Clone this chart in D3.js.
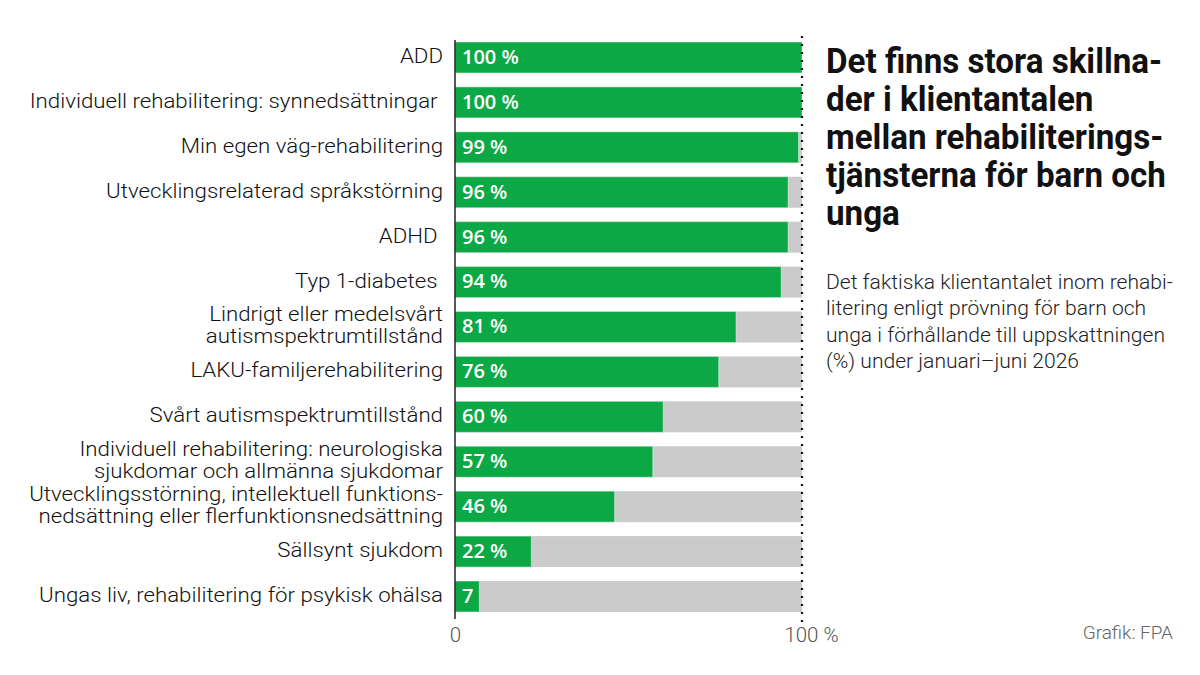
<!DOCTYPE html>
<html>
<head>
<meta charset="utf-8">
<script src="https://cdn.jsdelivr.net/npm/d3@7"></script>
<style>
  html, body { margin: 0; padding: 0; background: #fff; }
  svg { display: block; }
  text { white-space: pre; }
</style>
</head>
<body>
<svg id="chart" width="1200" height="675"></svg>
<script>
// ---- data ----
const categories = [
  ["ADD"],
  ["Individuell rehabilitering: synnedsättningar "],
  ["Min egen väg-rehabilitering"],
  ["Utvecklingsrelaterad språkstörning"],
  ["ADHD "],
  ["Typ 1-diabetes "],
  ["Lindrigt eller medelsvårt", "autismspektrumtillstånd"],
  ["LAKU-familjerehabilitering"],
  ["Svårt autismspektrumtillstånd"],
  ["Individuell rehabilitering: neurologiska", "sjukdomar och allmänna sjukdomar"],
  ["Utvecklingsstörning, intellektuell funktions-", "nedsättning eller flerfunktionsnedsättning"],
  ["Sällsynt sjukdom"],
  ["Ungas liv, rehabilitering för psykisk ohälsa"]
];
const values = [100, 100, 99, 96, 96, 94, 81, 76, 60, 57, 46, 22, 7];
const valueLabels = ["100 %", "100 %", "99 %", "96 %", "96 %", "94 %", "81 %", "76 %", "60 %", "57 %", "46 %", "22 %", "7"];
const tickValues = [0, 100];
const tickLabels = ["0", "100 %"];
const titleLines = ["Det finns stora skillna-", "der i klientantalen", "mellan rehabiliterings-", "tjänsterna för barn och", "unga"];
const subtitleLines = ["Det faktiska klientantalet inom rehabi-", "litering enligt prövning för barn och", "unga i förhållande till uppskattningen", "(%) under januari\u2013juni 2026"];
const sourceText = "Grafik: FPA";

// ---- setup ----
const svg = d3.select("#chart");
const FONT = "Roboto, 'Open Sans', sans-serif";
const idx = d3.range(values.length);

const x = d3.scaleLinear().domain([0, 100]).range([455, 802]);
const y = d3.scaleBand().domain(idx).range([42, 612]).paddingInner(0.31).paddingOuter(0);

// background (gray) bars
svg.append("g").selectAll("rect").data(idx).join("rect")
  .attr("x", x(0)).attr("y", i => y(i))
  .attr("width", x(100) - x(0)).attr("height", y.bandwidth())
  .attr("fill", "#cbcbcb");

// value bars
svg.append("g").selectAll("rect").data(idx).join("rect")
  .attr("x", x(0)).attr("y", i => y(i))
  .attr("width", i => x(values[i]) - x(0)).attr("height", y.bandwidth())
  .attr("fill", "#0da846")
  .attr("stroke", "#ffffff").attr("stroke-opacity", 0.45).attr("stroke-width", 1);

// value labels
svg.append("g").selectAll("text").data(idx).join("text")
  .attr("x", x(0) + 7).attr("y", i => y(i) + y.bandwidth() / 2 + 1)
  .attr("dominant-baseline", "middle")
  .attr("font-family", "'Open Sans', sans-serif").attr("font-weight", 600)
  .attr("font-size", 20).attr("fill", "#fff")
  .text(i => valueLabels[i]);

// baseline axis
svg.append("line").attr("x1", x(0)).attr("x2", x(0)).attr("y1", 40).attr("y2", 619)
  .attr("stroke", "#222").attr("stroke-width", 1.5);
// 100% dotted line
svg.append("line").attr("x1", x(100)).attr("x2", x(100)).attr("y1", 36).attr("y2", 622)
  .attr("stroke", "#111").attr("stroke-width", 2.2).attr("stroke-dasharray", "2,6");

// category labels
const lg = svg.append("g").attr("transform", "translate(443,0)");
idx.forEach(i => {
  const lines = categories[i];
  const cy = y(i) + y.bandwidth() / 2;
  const lh = 22;
  lines.forEach((ln, k) => {
    lg.append("text").attr("class", "cat")
      .attr("x", 0)
      .attr("y", cy + (k - (lines.length - 1) / 2) * lh)
      .attr("dominant-baseline", "middle")
      .attr("text-anchor", "end")
      .attr("font-family", FONT).attr("font-weight", 300)
      .attr("font-size", 20.5).attr("fill", "#111")
      .text(ln);
  });
});
// fit widest label to target width
{
  let maxW = 0;
  lg.selectAll("text").each(function () { maxW = Math.max(maxW, this.getComputedTextLength()); });
  const s = 414 / maxW;
  lg.attr("transform", `translate(443,0) scale(${s},1)`);
}

// x axis tick labels
const axis = d3.axisBottom(x).tickValues(tickValues).tickSize(0).tickFormat((d, i) => tickLabels[i]);
const ag = svg.append("g").attr("transform", "translate(0,621)").call(axis);
ag.select(".domain").remove();
ag.selectAll("text")
  .attr("font-family", FONT).attr("font-weight", 300)
  .attr("font-size", 20.5).attr("fill", "#555").attr("dy", "0.9em")
  .attr("dx", (d) => d === 100 ? 9 : 0);

// title
const tg = svg.append("g");
titleLines.forEach((ln, k) => {
  tg.append("text").attr("x", 0).attr("y", 73 + k * 38)
    .attr("font-family", FONT).attr("font-weight", 700)
    .attr("font-size", 35).attr("fill", "#111")
    .text(ln);
});
{
  let maxW = 0;
  tg.selectAll("text").each(function () { maxW = Math.max(maxW, this.getComputedTextLength()); });
  const s = 340 / maxW;
  tg.attr("transform", `translate(826,0) scale(${s},1)`);
}

// subtitle
const sg = svg.append("g");
subtitleLines.forEach((ln, k) => {
  sg.append("text").attr("x", 0).attr("y", 289 + k * 26.5)
    .attr("font-family", FONT).attr("font-weight", 300)
    .attr("font-size", 20.5).attr("fill", "#222")
    .text(ln);
});
{
  let maxW = 0;
  sg.selectAll("text").each(function () { maxW = Math.max(maxW, this.getComputedTextLength()); });
  const s = 347 / maxW;
  sg.attr("transform", `translate(826,0) scale(${s},1)`);
}

// source
svg.append("text").attr("x", 1173).attr("y", 639)
  .attr("text-anchor", "end")
  .attr("font-family", FONT).attr("font-weight", 300)
  .attr("font-size", 19).attr("fill", "#666")
  .text(sourceText);
</script>
</body>
</html>
